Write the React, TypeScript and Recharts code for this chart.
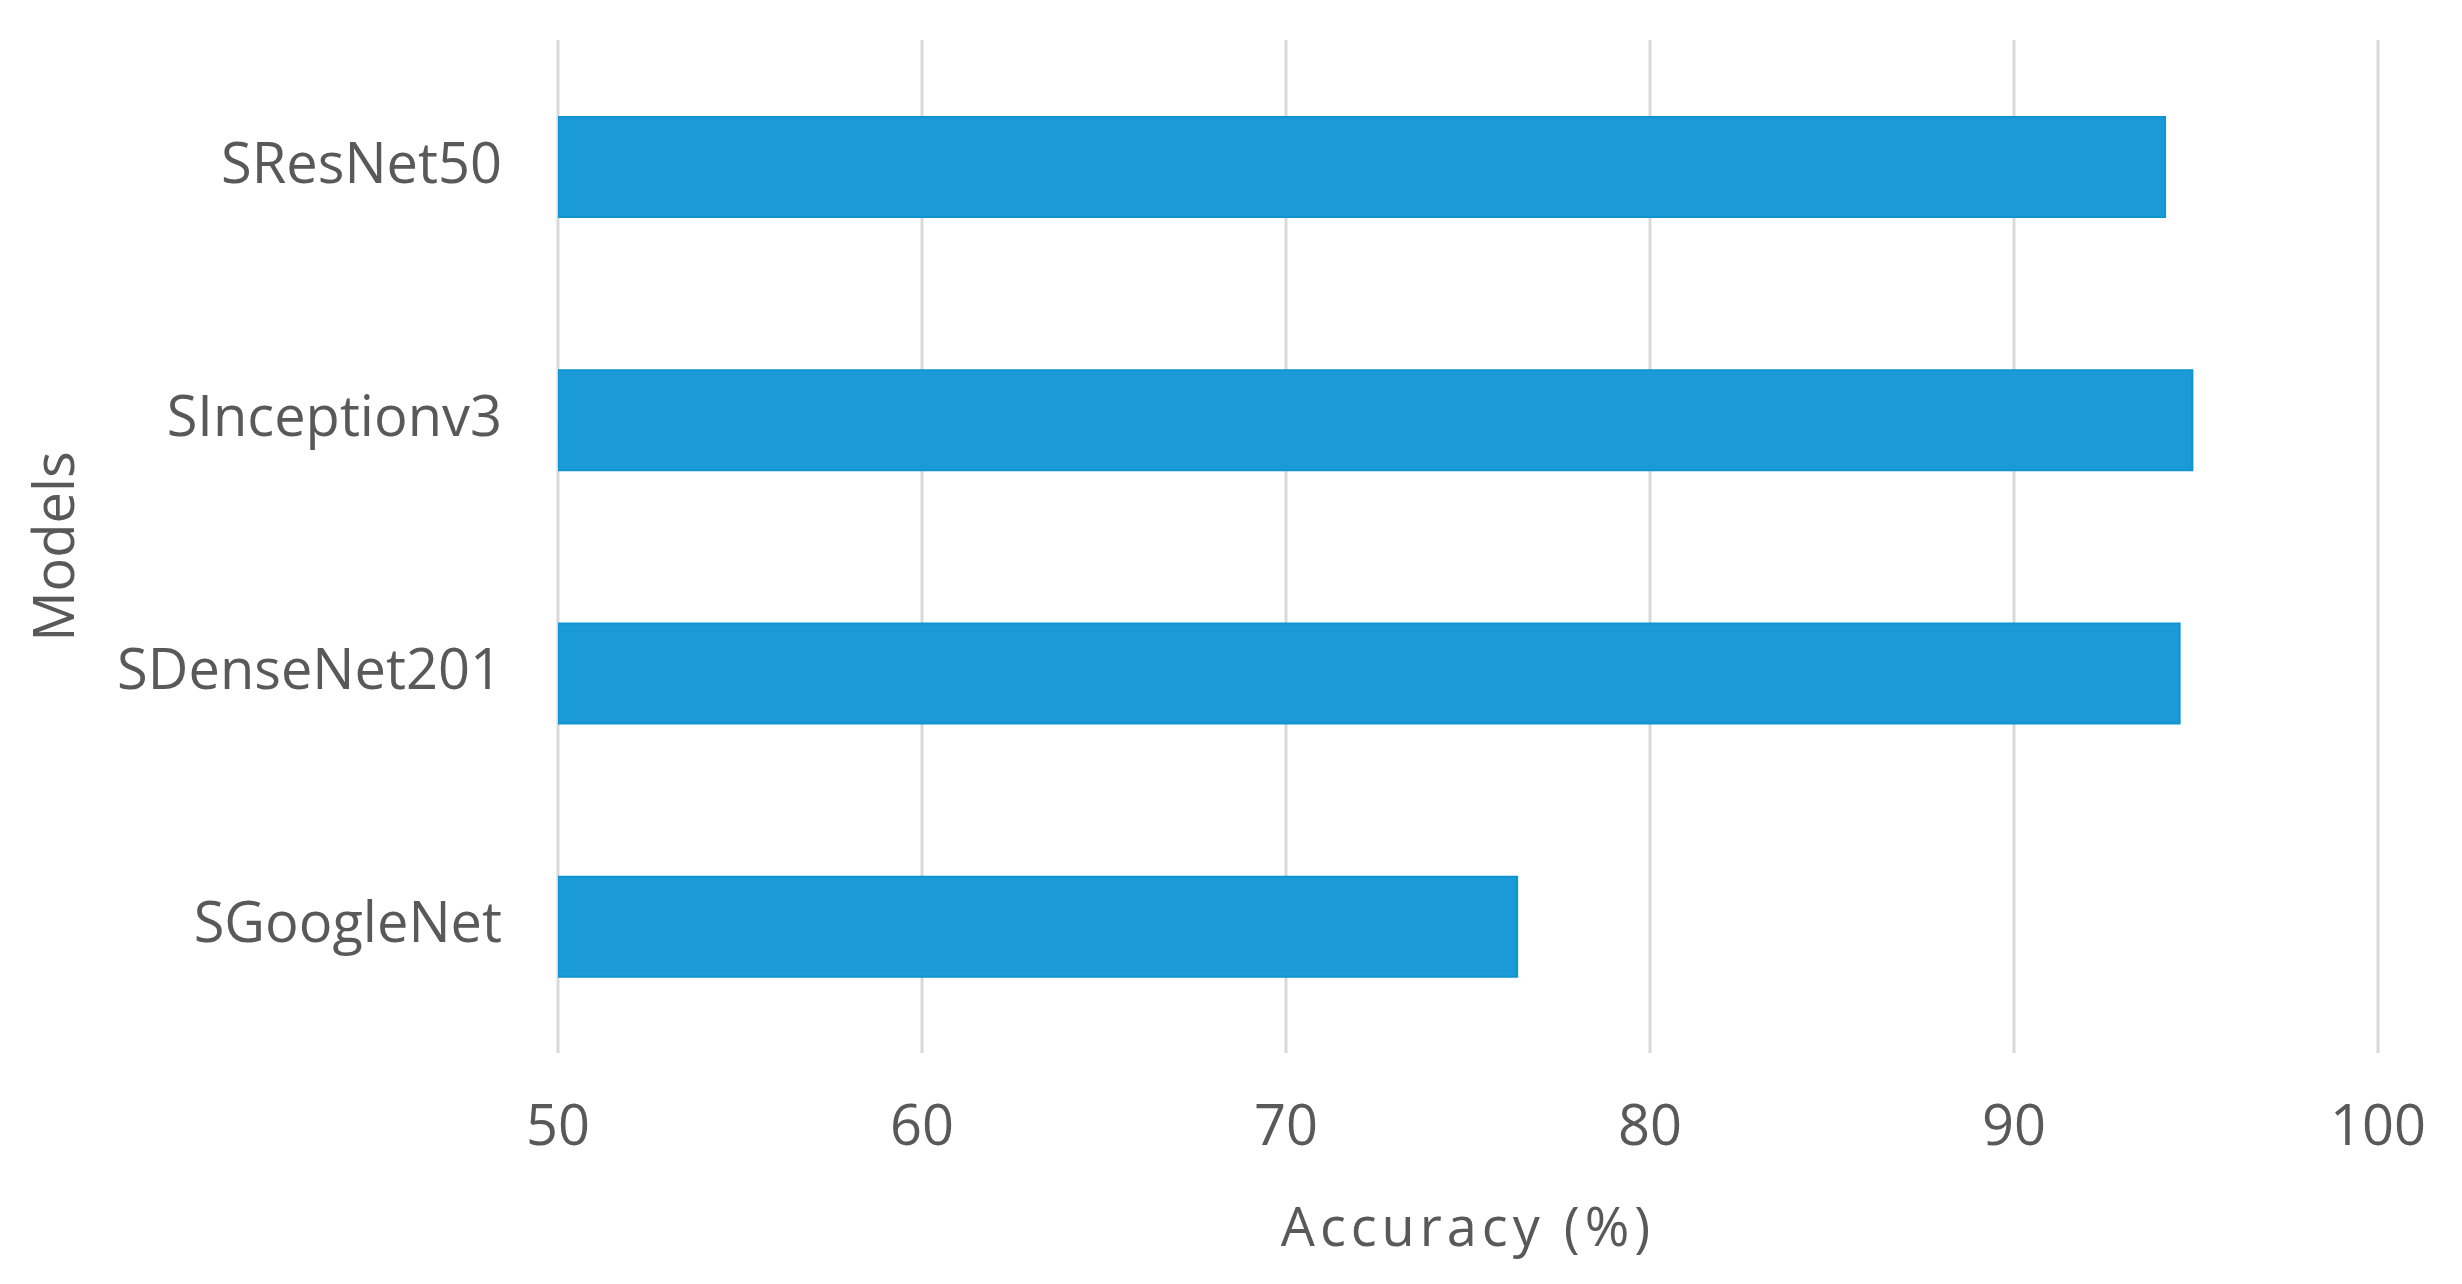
import React from "react";
import { BarChart, Bar, XAxis, YAxis, CartesianGrid, Label } from "recharts";

const models = ["SResNet50", "SInceptionv3", "SDenseNet201", "SGoogleNet"];
const accuracy = [94.15, 94.9, 94.55, 76.35];
const xTicks = [50, 60, 70, 80, 90, 100];

const data = models.map((name, i) => ({ name, accuracy: accuracy[i] }));

const textColor = "#595959";
const font = "'Open Sans', sans-serif";

function ModelsLabel(props: any) {
  const vb = props.viewBox || {};
  const cy = vb.y + vb.height / 2;
  const cx = 52;
  return (
    <text
      x={cx}
      y={cy}
      transform={`rotate(-90, ${cx}, ${cy})`}
      textAnchor="middle"
      dominantBaseline="central"
      fill={textColor}
      fontSize={56}
      fontFamily={font}
    >
      Models
    </text>
  );
}

function AccuracyLabel(props: any) {
  const vb = props.viewBox || {};
  const cx = vb.x + vb.width / 2;
  return (
    <text
      x={cx}
      y={1225}
      textAnchor="middle"
      dominantBaseline="central"
      fill={textColor}
      fontSize={54}
      letterSpacing={5}
      fontFamily={font}
    >
      Accuracy (%)
    </text>
  );
}

export default function App() {
  return (
    <div style={{ width: 2462, height: 1284, background: "#fff" }}>
      <style>{`body { margin: 0; }`}</style>
      <BarChart
        width={2462}
        height={1284}
        data={data}
        layout="vertical"
        margin={{ top: 40, right: 84, bottom: 0, left: 0 }}
      >
        <CartesianGrid horizontal={false} stroke="#d9d9d9" strokeWidth={3} />
        <XAxis
          type="number"
          domain={[50, 100]}
          ticks={xTicks}
          allowDataOverflow
          height={231}
          axisLine={false}
          tickLine={false}
          tickSize={0}
          tickMargin={52}
          tick={{ fill: textColor, fontSize: 56, fontFamily: font }}
        >
          <Label content={<AccuracyLabel />} />
        </XAxis>
        <YAxis
          type="category"
          dataKey="name"
          width={558}
          axisLine={false}
          tickLine={false}
          tickSize={0}
          tickMargin={56}
          tick={{ fill: textColor, fontSize: 56, fontFamily: font, dy: -4 }}
        >
          <Label content={<ModelsLabel />} />
        </YAxis>
        <Bar
          dataKey="accuracy"
          fill="#1a9bd7"
          stroke="#0f94d2"
          strokeWidth={2}
          barSize={100}
          isAnimationActive={false}
        />
      </BarChart>
    </div>
  );
}
